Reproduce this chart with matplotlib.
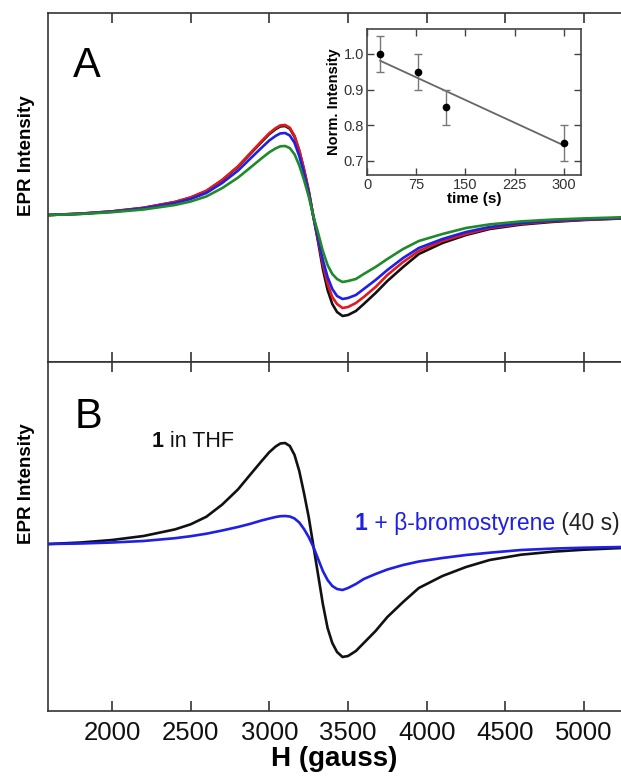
import numpy as np
import matplotlib.pyplot as plt

plt.rcParams["font.family"] = ["Liberation Sans", "DejaVu Sans"]

# ---------- data ----------
field = [1600, 1800, 2000, 2200, 2400, 2500, 2600, 2700, 2800, 2875, 2950, 3000,
         3040, 3070, 3100, 3130, 3160, 3190, 3220, 3250,
         3280, 3310, 3340, 3370, 3400, 3430, 3465, 3500, 3550, 3600, 3675, 3750,
         3850, 3950, 4100, 4250, 4400, 4600, 4800, 5000, 5240]

# panel A, four spectra
a_black = [0, .013, .036, .071, .129, .174, .24, .347, .481, .605, .73, .81,
           .859, .886, .89, .863, .783, .641, .454, .24,
           -.02, -.27, -.54, -.75, -.89, -.97, -1.01, -1.00, -.96, -.89, -.78, -.66,
           -.52, -.39, -.28, -.20, -.14, -.096, -.069, -.05, -.035]
a_red = [0, .014, .036, .072, .131, .176, .243, .351, .486, .612, .738, .819,
         .869, .896, .90, .873, .792, .648, .459, .243,
         -.019, -.25, -.49, -.69, -.82, -.89, -.93, -.92, -.88, -.82, -.72, -.60,
         -.47, -.36, -.26, -.19, -.13, -.088, -.063, -.047, -.033]
a_blue = [0, .012, .033, .066, .119, .16, .221, .32, .443, .558, .672, .746,
          .791, .816, .82, .795, .722, .59, .418, .221,
          -.017, -.23, -.45, -.62, -.74, -.81, -.84, -.83, -.80, -.74, -.65, -.55,
          -.43, -.33, -.24, -.17, -.12, -.08, -.057, -.042, -.03]
a_green = [0, .01, .028, .055, .10, .135, .186, .269, .373, .469, .566, .628,
           .666, .687, .69, .669, .607, .497, .352, .186,
           -.013, -.18, -.36, -.50, -.59, -.64, -.67, -.66, -.64, -.59, -.52, -.44,
           -.34, -.26, -.19, -.13, -.094, -.064, -.046, -.034, -.023]

# panel B
b_thf = [0, .015, .04, .08, .146, .197, .273, .394, .545, .687, .828, .919,
         .975, 1.005, 1.01, .98, .89, .73, .51, .27,
         -.02, -.31, -.60, -.84, -.99, -1.08, -1.13, -1.12, -1.07, -.99, -.87, -.73,
         -.58, -.44, -.32, -.23, -.16, -.107, -.077, -.057, -.04]
b_bromo = [0, .005, .015, .03, .058, .078, .103, .135, .17, .20, .235, .255,
           .27, .278, .28, .275, .255, .215, .15, .07,
           -.03, -.15, -.27, -.36, -.42, -.45, -.46, -.44, -.40, -.35, -.30, -.255,
           -.21, -.175, -.14, -.11, -.087, -.06, -.046, -.037, -.03]

# inset: normalized intensity vs time
t_s = [20, 78, 120, 300]
norm_int = [1.00, 0.95, 0.85, 0.75]
norm_err = [0.05, 0.05, 0.05, 0.05]
fit_t = [20, 300]
fit_y = [0.981, 0.743]

xticks = [2000, 2500, 3000, 3500, 4000, 4500, 5000]

# ---------- figure ----------
W, H = 621, 783
fig = plt.figure(figsize=(W / 100, H / 100), dpi=100)

def px(x0, y0, x1, y1):
    return [x0 / W, 1 - y1 / H, (x1 - x0) / W, (y1 - y0) / H]

axA = fig.add_axes(px(48, 13, 621, 362))
axB = fig.add_axes(px(48, 362, 621, 711))

spine_c = "#333333"
for ax in (axA, axB):
    ax.set_xlim(1593, 5235)
    ax.set_xticks(xticks)
    ax.set_yticks([])
    ax.spines["right"].set_visible(False)
    for s in ("left", "top", "bottom"):
        ax.spines[s].set_color(spine_c)
        ax.spines[s].set_linewidth(1.2)
    ax.tick_params(axis="x", direction="in", top=True, bottom=True,
                   length=7.5, width=1.2, color=spine_c)

axA.set_ylim(-1.47, 2.02)
axB.set_ylim(-1.67, 1.82)
axA.tick_params(axis="x", labelbottom=False)

lw = 1.9
axA.plot(field, a_black, color="#111111", lw=lw)
axA.plot(field, a_red, color="#e31a1c", lw=lw)
axA.plot(field, a_blue, color="#1f1fe6", lw=lw)
axA.plot(field, a_green, color="#1f8a2a", lw=lw)

axB.plot(field, b_thf, color="#111111", lw=lw)
axB.plot(field, b_bromo, color="#1f1fe6", lw=lw)

axB.tick_params(axis="x", labelsize=18.5, pad=7, labelcolor="#111111")
axB.set_xlabel("H (gauss)", fontsize=20, fontweight="bold", labelpad=1)

for ax, yc in ((axA, 0.59), (axB, 0.65)):
    ax.set_ylabel("EPR Intensity", fontsize=13.5, fontweight="bold")
    ax.yaxis.set_label_coords(-0.022, yc)

# panel letters
fig.text(73 / W, 1 - 77 / H, "A", fontsize=30, va="baseline", ha="left")
fig.text(75 / W, 1 - 428 / H, "B", fontsize=30, va="baseline", ha="left")

# annotations in panel B
fs = 15.5
t1 = fig.text(152 / W, 1 - 447 / H, "1", fontsize=fs, fontweight="bold",
              va="baseline", ha="left", color="#111111")
axB.annotate(" in THF", xy=(1, 0), xycoords=t1, fontsize=fs,
             color="#111111", va="bottom", ha="left")

fs2 = 16.5
t2 = fig.text(355 / W, 1 - 530 / H, "1", fontsize=fs2, fontweight="bold",
              va="baseline", ha="left", color="#1f1fe6")
t3 = axB.annotate(" + β-bromostyrene", xy=(1, 0), xycoords=t2, fontsize=fs2,
                  color="#1f1fe6", va="bottom", ha="left")
axB.annotate(" (40 s)", xy=(1, 0), xycoords=t3, fontsize=fs2,
             color="#222222", va="bottom", ha="left")

# ---------- inset ----------
axI = fig.add_axes(px(367, 29, 581, 175))
axI.errorbar(t_s, norm_int, yerr=norm_err, fmt="o", color="black",
             ecolor="#777777", elinewidth=1.0, capsize=3, capthick=1.0,
             markersize=4.5, zorder=3)
axI.plot(fit_t, fit_y, color="#666666", lw=1.3)
axI.set_xlim(0, 326)
axI.set_ylim(0.66, 1.07)
axI.set_xticks([0, 75, 150, 225, 300])
axI.set_yticks([0.7, 0.8, 0.9, 1.0])
axI.set_yticklabels(["0.7", "0.8", "0.9", "1.0"])
axI.tick_params(direction="in", top=True, right=True, length=5, width=1.0,
                color="#444444", labelsize=10.5, labelcolor="#333333", pad=2)
for s in axI.spines.values():
    s.set_color("#444444")
    s.set_linewidth(1.2)
axI.set_xlabel("time (s)", fontsize=11, fontweight="bold", labelpad=0)
axI.set_ylabel("Norm. Intensity", fontsize=10.5, fontweight="bold", labelpad=2)

fig.savefig("out.png", dpi=100)
